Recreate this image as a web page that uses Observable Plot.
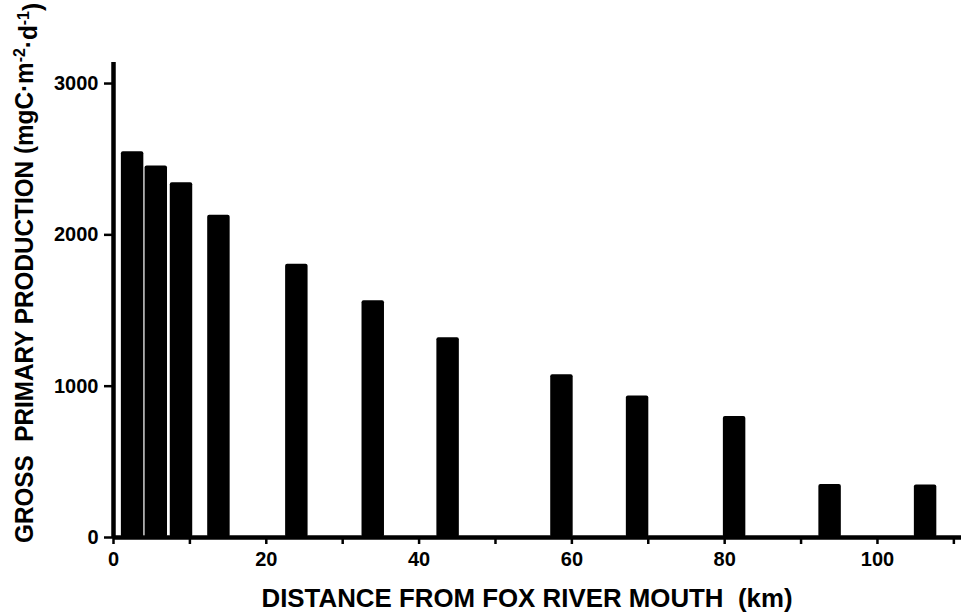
<!DOCTYPE html>
<html><head><meta charset="utf-8">
<script src="https://cdn.jsdelivr.net/npm/d3@7"></script>
<script src="https://cdn.jsdelivr.net/npm/@observablehq/plot@0.6"></script>
<style>body{margin:0;background:#fff;}</style>
</head><body><div id="chart"></div>
<script>
// Data
const distanceKm = [2.5, 5.6, 8.9, 13.8, 24.0, 34.0, 43.8, 58.7, 68.6, 81.3, 93.8, 106.3];
const production = [2550, 2455, 2345, 2130, 1805, 1565, 1320, 1075, 935, 800, 350, 347];
const xTicks = [0, 10, 20, 30, 40, 50, 60, 70, 80, 90, 100, 110];
const xTickLabels = [0, 20, 40, 60, 80, 100];
const yTicks = [0, 1000, 2000, 3000];
const xTitle = "DISTANCE FROM FOX RIVER MOUTH  (km)";

const barHalfWidth = 1.47; // km
const data = distanceKm.map((km, i) => ({km, value: production[i]}));

const plot = Plot.plot({
  width: 961, height: 614,
  marginLeft: 113, marginRight: 0, marginTop: 62, marginBottom: 77,
  style: {fontFamily: "'Liberation Sans', Arial, sans-serif", fontWeight: "bold", fontSize: "20px", color: "#000", background: "#fff", overflow: "visible"},
  x: {domain: [0, 111]},
  y: {domain: [0, 3139]},
  marks: [
    Plot.rectY(data, {x1: d => d.km - barHalfWidth, x2: d => d.km + barHalfWidth, y: "value", fill: "#000", rx: 2}),
    Plot.axisY({ticks: yTicks, tickSize: 9, tickPadding: 6, strokeWidth: 2.5, label: null, fontSize: 20,
      tickFormat: d => String(d)}),
    Plot.axisX({ticks: xTicks, tickSize: 7, tickPadding: 7, strokeWidth: 2.5, label: null, fontSize: 20,
      tickFormat: d => xTickLabels.includes(d) ? String(d) : ""}),
    Plot.ruleX([0], {strokeWidth: 4.5}),
    Plot.ruleY([0], {strokeWidth: 4.5})
  ]
});
document.getElementById("chart").appendChild(plot);

const svg = d3.select(plot);
// X axis title
svg.append("text")
  .attr("x", 527).attr("y", 607)
  .attr("text-anchor", "middle")
  .attr("font-size", 25).attr("font-weight", "bold")
  .attr("textLength", 531).attr("lengthAdjust", "spacingAndGlyphs")
  .attr("fill", "#000")
  .text(xTitle);

// Y axis title with superscripts
const yt = svg.append("text")
  .attr("transform", "translate(33,273) rotate(-90)")
  .attr("text-anchor", "middle")
  .attr("font-size", 26).attr("font-weight", "bold")
  .attr("textLength", 540).attr("lengthAdjust", "spacingAndGlyphs")
  .attr("fill", "#000");
yt.append("tspan").text("GROSS  PRIMARY PRODUCTION (mgC·m");
yt.append("tspan").attr("dy", "-0.45em").attr("font-size", 17).text("-2");
yt.append("tspan").attr("dy", "0.45em").text("·d");
yt.append("tspan").attr("dy", "-0.45em").attr("font-size", 17).text("-1");
yt.append("tspan").attr("dy", "0.45em").text(")");
</script>
</body></html>
